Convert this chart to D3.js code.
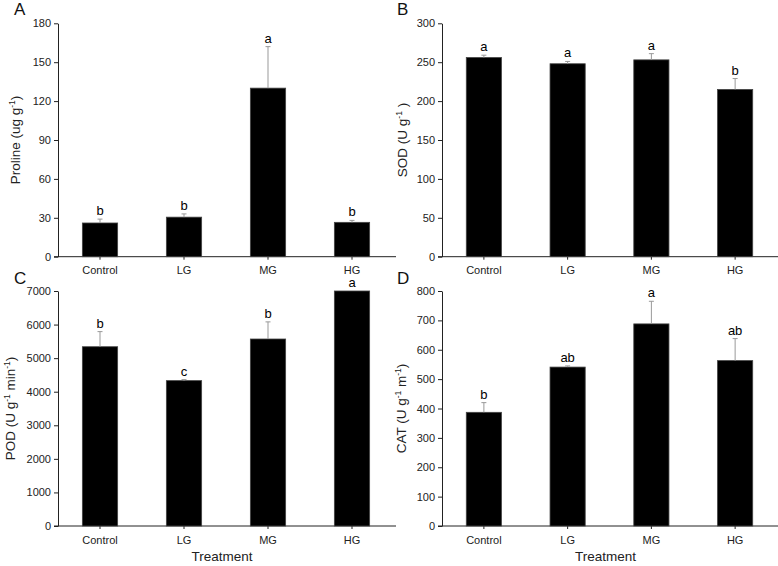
<!DOCTYPE html>
<html>
<head>
<meta charset="utf-8">
<script src="https://cdn.jsdelivr.net/npm/d3@7"></script>
<style>
  body { margin: 0; background: #fff; }
  svg { display: block; font-family: "Liberation Sans", Arial, sans-serif; }
</style>
</head>
<body>
<svg id="chart" width="778" height="566"></svg>
<script>
const treatments = ["Control", "LG", "MG", "HG"];

const prolineMean = [26, 30.5, 130, 26.5];
const prolineErr = [3, 2.5, 32, 1.5];
const prolineLetters = ["b", "b", "a", "b"];
const prolineTicks = [0, 30, 60, 90, 120, 150, 180];

const sodMean = [256, 248, 253, 215];
const sodErr = [3, 3, 8, 14];
const sodLetters = ["a", "a", "a", "b"];
const sodTicks = [0, 50, 100, 150, 200, 250, 300];

const podMean = [5340, 4330, 5570, 7000];
const podErr = [450, 30, 510, 0];
const podLetters = ["b", "c", "b", "a"];
const podTicks = [0, 1000, 2000, 3000, 4000, 5000, 6000, 7000];

const catMean = [387, 541, 688, 563];
const catErr = [33, 4, 77, 75];
const catLetters = ["b", "ab", "a", "ab"];
const catTicks = [0, 100, 200, 300, 400, 500, 600, 700, 800];

const svg = d3.select("#chart");

function drawPanel(opt) {
  const g = svg.append("g");
  const x = d3.scaleBand().domain(treatments).range([opt.x0, opt.x1]).paddingInner(0.58).paddingOuter(0.29);
  const y = d3.scaleLinear().domain([0, opt.ticks[opt.ticks.length - 1]]).range([opt.yb, opt.yt]);

  // y axis
  const ya = g.append("g").attr("transform", `translate(${opt.x0},0)`)
    .call(d3.axisLeft(y).tickValues(opt.ticks).tickFormat(d3.format("d")).tickSize(4).tickPadding(3).tickSizeOuter(0));
  ya.select(".domain").attr("stroke", "#222");
  ya.selectAll(".tick line").attr("stroke", "#222");
  ya.selectAll("text").attr("font-size", "11px").attr("fill", "#222");

  // x axis
  const xa = g.append("g").attr("transform", `translate(0,${opt.yb})`)
    .call(d3.axisBottom(x).tickSize(3).tickPadding(7).tickSizeOuter(0));
  xa.select(".domain").attr("stroke", "#222").attr("d", `M${opt.x0 - 4},0H${opt.x1 + 2}`);
  xa.selectAll(".tick line").attr("stroke", "#222");
  xa.selectAll("text").attr("font-size", "11px").attr("fill", "#222");

  // bars
  const data = treatments.map((t, i) => ({ t, m: opt.mean[i], e: opt.err[i], l: opt.letters[i] }));
  g.selectAll("rect.bar").data(data).enter().append("rect")
    .attr("x", d => x(d.t))
    .attr("y", d => y(d.m))
    .attr("width", x.bandwidth())
    .attr("height", d => y(0) - y(d.m))
    .attr("fill", "#000")
    .attr("stroke", "#444")
    .attr("stroke-width", 0.8);

  // error bars
  const eb = g.selectAll("g.err").data(data.filter(d => d.e > 0)).enter().append("g");
  eb.append("line")
    .attr("x1", d => x(d.t) + x.bandwidth() / 2)
    .attr("x2", d => x(d.t) + x.bandwidth() / 2)
    .attr("y1", d => y(d.m))
    .attr("y2", d => y(d.m + d.e))
    .attr("stroke", "#999").attr("stroke-width", 1);
  eb.append("line")
    .attr("x1", d => x(d.t) + x.bandwidth() / 2 - 2.5)
    .attr("x2", d => x(d.t) + x.bandwidth() / 2 + 2.5)
    .attr("y1", d => y(d.m + d.e))
    .attr("y2", d => y(d.m + d.e))
    .attr("stroke", "#999").attr("stroke-width", 1);

  // significance letters
  g.selectAll("text.sig").data(data).enter().append("text")
    .attr("x", d => x(d.t) + x.bandwidth() / 2)
    .attr("y", d => y(d.m + d.e) - 4)
    .attr("text-anchor", "middle")
    .attr("font-size", "13px")
    .attr("fill", "#000")
    .text(d => d.l);

  // y title
  const yt = g.append("text")
    .attr("transform", `translate(${opt.titleX},${(opt.yb + opt.yt) / 2}) rotate(-90)`)
    .attr("text-anchor", "middle")
    .attr("font-size", "13.5px")
    .attr("fill", "#222");
  opt.title.forEach(p => {
    const ts = yt.append("tspan").text(p.t);
    if (p.sup) ts.attr("font-size", "8.5px").attr("baseline-shift", "super");
  });

  // x title
  if (opt.xTitle) {
    g.append("text")
      .attr("x", (opt.x0 + opt.x1) / 2 - 4)
      .attr("y", opt.yb + 35)
      .attr("text-anchor", "middle")
      .attr("font-size", "13.5px")
      .attr("fill", "#222")
      .text(opt.xTitle);
  }

  // panel letter
  g.append("text")
    .attr("x", opt.lx).attr("y", opt.ly)
    .attr("font-size", "17px").attr("fill", "#111")
    .text(opt.letter);
}

drawPanel({
  x0: 58, x1: 394, yt: 23.3, yb: 256.7, ticks: prolineTicks,
  mean: prolineMean, err: prolineErr, letters: prolineLetters,
  titleX: 20, title: [{ t: "Proline (ug g" }, { t: "-1", sup: true }, { t: ")" }],
  letter: "A", lx: 14, ly: 15
});
drawPanel({
  x0: 442, x1: 777, yt: 23.3, yb: 256.7, ticks: sodTicks,
  mean: sodMean, err: sodErr, letters: sodLetters,
  titleX: 407, title: [{ t: "SOD (U g" }, { t: "-1", sup: true }, { t: " )" }],
  letter: "B", lx: 397, ly: 15
});
drawPanel({
  x0: 58, x1: 394, yt: 291, yb: 526, ticks: podTicks,
  mean: podMean, err: podErr, letters: podLetters,
  titleX: 15, title: [{ t: "POD (U g" }, { t: "-1", sup: true }, { t: " min" }, { t: "-1", sup: true }, { t: ")" }],
  letter: "C", lx: 14, ly: 284, xTitle: "Treatment"
});
drawPanel({
  x0: 442, x1: 777, yt: 291, yb: 526, ticks: catTicks,
  mean: catMean, err: catErr, letters: catLetters,
  titleX: 406, title: [{ t: "CAT (U g" }, { t: "-1", sup: true }, { t: " m" }, { t: "-1", sup: true }, { t: ")" }],
  letter: "D", lx: 397, ly: 284, xTitle: "Treatment"
});
</script>
</body>
</html>
